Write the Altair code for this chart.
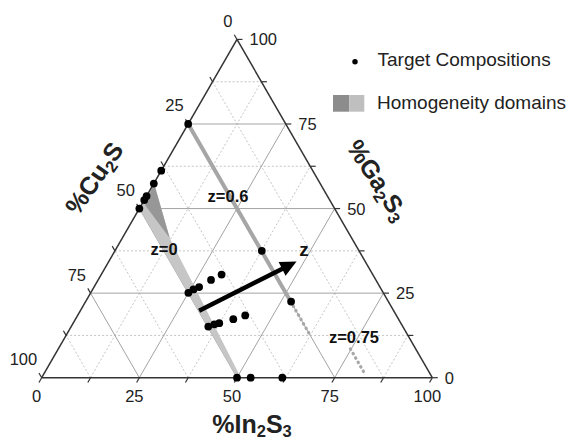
import altair as alt
import pandas as pd
import numpy as np

S3 = np.sqrt(3) / 2

# ---- data (ternary: %In2S3, %Ga2S3 ; %Cu2S = 100 - In - Ga) ----
tick_labels = [0, 25, 50, 75, 100]
grid_values = [12.5, 25, 37.5, 50, 62.5, 75, 87.5]
tick_marks = [0, 12.5, 25, 37.5, 50, 62.5, 75, 87.5, 100]

target_in = [0, 0, 0, 0, 0, 0,
             25.0, 25.8, 26.9, 28.9, 30.8,
             35.1, 36.3, 37.4, 40.4, 42.9,
             37.6, 52.6,
             50.0, 53.5, 61.6]
target_ga = [75, 61.2, 57.4, 53.7, 52.5, 50.0,
             25.1, 26.1, 26.8, 28.9, 30.5,
             15.1, 15.8, 16.1, 17.3, 18.4,
             37.5, 22.5,
             0, 0, 0]

# homogeneity domains (polygon vertices)
light_in = [0, 12.2, 51.0, 50.0, 0]
light_ga = [57.5, 41.2, 0, 0, 50.0]
dark_in = [0, 12.2, 1.0]
dark_ga = [57.5, 41.2, 51.0]

# z = 0.6 solid band (Cu2S = 25)
z06_in = [0, 52.5]
z06_ga = [75, 22.5]
# dotted extensions
dot_in = [52.5, 62.5, 74.8, 82.3]
dot_ga = [22.5, 12.5, 8.5, 1.0]
dot_grp = ["a", "a", "b", "b"]

# arrow
arrow_in = [30.4, 46.7]
arrow_ga = [19.8, 33.2]

# annotations
ann_text = ["z=0.6", "z=0", "z=0.75"]
ann_in = [21.0, 12.5, 74.1]
ann_ga = [53.4, 37.7, 11.7]
zlab_in = [48.3]
zlab_ga = [37.7]

# axis titles: pieces (text, is_subscript)
title_cu = [("%Cu", False), ("2", True), ("S", False)]
title_ga = [("%Ga", False), ("2", True), ("S", False), ("3", True)]
title_in = [("%In", False), ("2", True), ("S", False), ("3", True)]


def xy(i, g):
    i = np.asarray(i, float)
    g = np.asarray(g, float)
    return i + g / 2, g * S3


# ---- scales ----
W, H = 563, 431
K = 3.906
X0 = -33.7 / K
Y1 = 369.7 / K
xs = alt.Scale(domain=[X0, X0 + W / K], nice=False, zero=False)
ys = alt.Scale(domain=[(369.7 - H) / K, Y1], nice=False, zero=False)
FONT = "Liberation Sans"


def X(f="x"):
    return alt.X(f + ":Q", scale=xs, axis=None)


def Y(f="y"):
    return alt.Y(f + ":Q", scale=ys, axis=None)


def seg_frame(segs):
    rows = []
    for (i1, g1, i2, g2) in segs:
        x1, y1 = xy(i1, g1)
        x2, y2 = xy(i2, g2)
        rows.append(dict(x=float(x1), y=float(y1), x2=float(x2), y2=float(y2)))
    return pd.DataFrame(rows)


solid, dashed = [], []
for v in grid_values:
    segs = [(0, v, 100 - v, v), (v, 0, v, 100 - v), (100 - v, 0, 0, 100 - v)]
    (solid if v % 25 == 0 else dashed).extend(segs)

grid_solid = alt.Chart(seg_frame(solid)).mark_rule(color="#a3a3a3", strokeWidth=1).encode(
    x=X(), y=Y(), x2="x2:Q", y2="y2:Q")
grid_dash = alt.Chart(seg_frame(dashed)).mark_rule(color="#bdbdbd", strokeWidth=0.9, strokeDash=[2, 2]).encode(
    x=X(), y=Y(), x2="x2:Q", y2="y2:Q")

# ticks
L = 1.4
trows = []
for v in tick_marks:
    bx, by = v, 0.0
    trows.append(dict(x=bx, y=by, x2=bx - 0.5 * L, y2=by - S3 * L))
    rx, ry = 100 - v / 2, v * S3
    trows.append(dict(x=rx, y=ry, x2=rx + L, y2=ry))
    lx, ly = (100 - v) / 2, (100 - v) * S3
    trows.append(dict(x=lx, y=ly, x2=lx - 0.5 * L, y2=ly + S3 * L))
ticks = alt.Chart(pd.DataFrame(trows)).mark_rule(color="#333333", strokeWidth=1.2).encode(
    x=X(), y=Y(), x2="x2:Q", y2="y2:Q")

border = alt.Chart(seg_frame([(0, 0, 100, 0), (100, 0, 0, 100), (0, 100, 0, 0)])).mark_rule(
    color="#333333", strokeWidth=1.5).encode(x=X(), y=Y(), x2="x2:Q", y2="y2:Q")

# tick labels
bl = pd.DataFrame({"x": [float(v) for v in tick_labels], "y": [0.0] * 5, "t": [str(v) for v in tick_labels]})
rl = pd.DataFrame({"x": [100 - v / 2 for v in tick_labels], "y": [v * S3 for v in tick_labels],
                   "t": [str(v) for v in tick_labels]})
ll = pd.DataFrame({"x": [(100 - v) / 2 for v in tick_labels], "y": [(100 - v) * S3 for v in tick_labels],
                   "t": [str(v) for v in tick_labels]})
tl_style = dict(font=FONT, fontSize=16.5, color="#222222", baseline="middle")
lab_b = alt.Chart(bl).mark_text(align="center", dx=-5, dy=19, **tl_style).encode(x=X(), y=Y(), text="t:N")
lab_r = alt.Chart(rl).mark_text(align="left", dx=12.5, dy=1, **tl_style).encode(x=X(), y=Y(), text="t:N")
lab_l = alt.Chart(ll).mark_text(align="right", dx=-4.5, dy=-17.5, **tl_style).encode(x=X(), y=Y(), text="t:N")

# polygons
lx_, ly_ = xy(light_in, light_ga)
light = alt.Chart(pd.DataFrame({"x": lx_, "y": ly_, "o": range(len(lx_))})).mark_line(
    filled=True, fill="#c6c6c6", strokeWidth=0, interpolate="linear-closed").encode(
    x=X(), y=Y(), order="o:Q")
dx_, dy_ = xy(dark_in, dark_ga)
dark = alt.Chart(pd.DataFrame({"x": dx_, "y": dy_, "o": range(len(dx_))})).mark_line(
    filled=True, fill="#979797", strokeWidth=0, interpolate="linear-closed").encode(
    x=X(), y=Y(), order="o:Q")

zx, zy = xy(z06_in, z06_ga)
z06 = alt.Chart(pd.DataFrame({"x": zx, "y": zy, "o": [0, 1]})).mark_line(
    color="#a6a6a6", strokeWidth=4).encode(x=X(), y=Y(), order="o:Q")

ddx, ddy = xy(dot_in, dot_ga)
dotted = alt.Chart(pd.DataFrame({"x": ddx, "y": ddy, "g": dot_grp, "o": range(4)})).mark_line(
    color="#a8a8a8", strokeWidth=3.2, strokeDash=[0.5, 4.6], strokeCap="round").encode(
    x=X(), y=Y(), detail="g:N", order="o:Q")

px, py = xy(target_in, target_ga)
points = alt.Chart(pd.DataFrame({"x": px, "y": py})).mark_circle(
    color="black", size=60, opacity=1).encode(x=X(), y=Y())

ax, ay = xy(arrow_in, arrow_ga)
arrow_line = alt.Chart(pd.DataFrame({"x": ax, "y": ay, "o": [0, 1]})).mark_line(
    color="black", strokeWidth=4.5).encode(x=X(), y=Y(), order="o:Q")
arrow_head = alt.Chart(pd.DataFrame({"x": [ax[1]], "y": [ay[1]]})).mark_point(
    shape="M0,-1L0.9,0.9L-0.9,0.9Z", filled=True, color="black", size=290, angle=63, opacity=1).encode(
    x=X(), y=Y())

anx, any_ = xy(ann_in, ann_ga)
ann = alt.Chart(pd.DataFrame({"x": anx, "y": any_, "t": ann_text})).mark_text(
    font=FONT, fontSize=16.5, fontWeight="bold", color="#111111", baseline="middle").encode(
    x=X(), y=Y(), text="t:N")
zx2, zy2 = xy(zlab_in, zlab_ga)
zlab = alt.Chart(pd.DataFrame({"x": zx2, "y": zy2, "t": ["z"]})).mark_text(
    font=FONT, fontSize=19, fontWeight="bold", color="#111111", baseline="middle").encode(
    x=X(), y=Y(), text="t:N")

# ---- axis titles built from pieces (main text + subscripts) ----
TS = 25.0           # main font size
SS = 16.5           # subscript font size
SUB_SHIFT = 4.5     # subscript drop
ADV = {"%": 0.889, "C": 0.722, "u": 0.611, "S": 0.667, "G": 0.778, "a": 0.556,
       "I": 0.278, "n": 0.611, "2": 0.556, "3": 0.556}


def title_rows(pieces, cx, cy, angle):
    th = np.radians(angle)
    d = np.array([np.cos(th), np.sin(th)])
    down = np.array([-np.sin(th), np.cos(th)])
    widths = [sum(ADV[c] for c in t) * (SS if sub else TS) for t, sub in pieces]
    total = sum(widths)
    start = np.array([cx, cy]) - d * total / 2 + down * (0.716 * TS / 2)
    rows, pos = [], 0.0
    for (t, sub), w in zip(pieces, widths):
        p = start + d * pos + (down * SUB_SHIFT if sub else 0)
        rows.append(dict(t=t, px=float(p[0]), py=float(p[1]), fs=SS if sub else TS))
        pos += w
    return rows


def title_layer(pieces, cx, cy, angle):
    layers = []
    for r in title_rows(pieces, cx, cy, angle):
        layers.append(alt.Chart(pd.DataFrame({"a": [0]})).mark_text(
            text=r["t"], angle=angle % 360, align="left", baseline="alphabetic", font=FONT,
            fontSize=r["fs"], fontWeight="bold", color="#222222").encode(
            x=alt.value(r["px"]), y=alt.value(r["py"])))
    return layers


titles = (title_layer(title_cu, 86, 170, 305) + title_layer(title_ga, 370, 172, 57)
          + title_layer(title_in, 244, 416, 0))

# legend
one = pd.DataFrame({"a": [0]})
leg_style = dict(font=FONT, fontSize=19, color="#222222", align="left", baseline="middle")
leg_dot = alt.Chart(one).mark_circle(color="black", size=30, opacity=1).encode(
    x=alt.value(347), y=alt.value(53.7))
leg_t1 = alt.Chart(one).mark_text(text="Target Compositions", **leg_style).encode(
    x=alt.value(369.5), y=alt.value(52))
leg_r1 = alt.Chart(one).mark_rect(color="#8c8c8c").encode(
    x=alt.value(325), x2=alt.value(341.3), y=alt.value(87), y2=alt.value(103.7))
leg_r2 = alt.Chart(one).mark_rect(color="#bfbfbf").encode(
    x=alt.value(341.3), x2=alt.value(356.3), y=alt.value(87), y2=alt.value(103.7))
leg_t2 = alt.Chart(one).mark_text(text="Homogeneity domains", **leg_style).encode(
    x=alt.value(369), y=alt.value(95.3))

chart = alt.layer(
    grid_dash, grid_solid, light, dark, z06, dotted, border, ticks,
    lab_b, lab_r, lab_l, ann, zlab, arrow_line, arrow_head, points,
    *titles, leg_dot, leg_t1, leg_r1, leg_r2, leg_t2,
).properties(
    width=W, height=H, padding=0, autosize=alt.AutoSizeParams(type="none"), background="white"
).configure_view(stroke=None)

chart.save("out.html", embed_options={"renderer": "svg", "actions": False})
